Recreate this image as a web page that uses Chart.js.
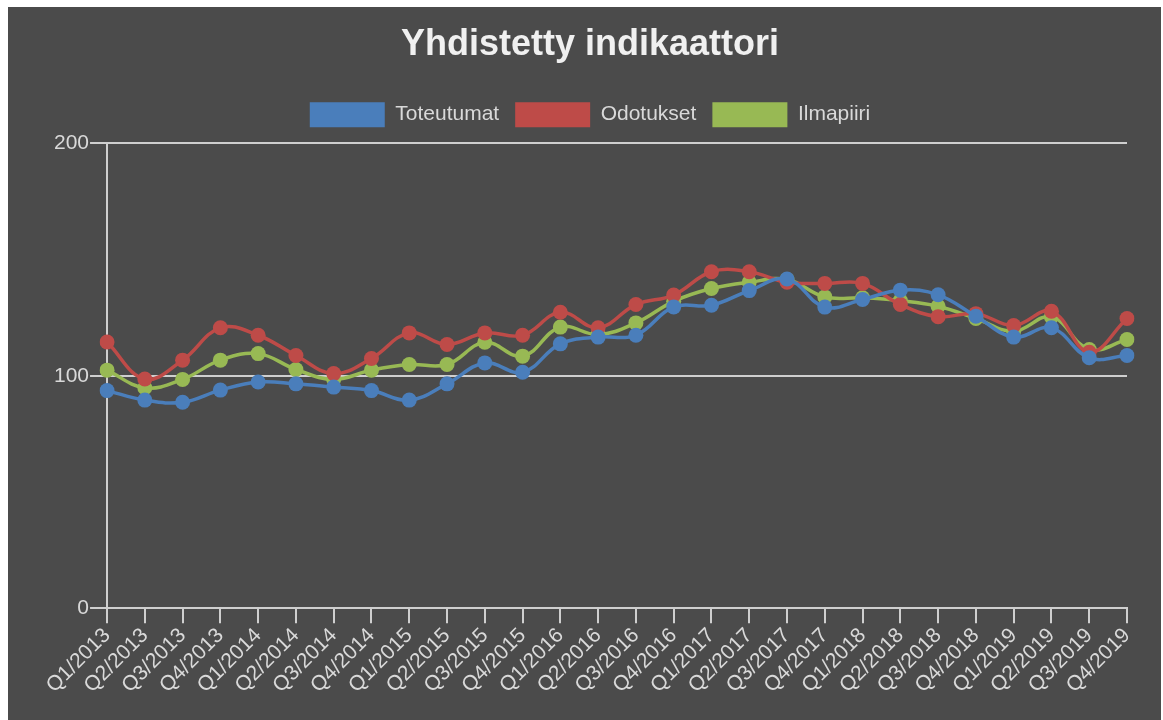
<!DOCTYPE html>
<html>
<head>
<meta charset="utf-8">
<script src="https://cdn.jsdelivr.net/npm/chart.js@4"></script>
<style>
  html, body { margin: 0; padding: 0; background: #fff; }
  #wrap { position: absolute; left: 8px; top: 7px; width: 1153px; height: 713px; background: #4b4b4b; }
</style>
</head>
<body>
<div id="wrap"><canvas id="grafico"></canvas></div>
<script>
const kvartaalit = ['Q1/2013', 'Q2/2013', 'Q3/2013', 'Q4/2013', 'Q1/2014', 'Q2/2014', 'Q3/2014', 'Q4/2014',
  'Q1/2015', 'Q2/2015', 'Q3/2015', 'Q4/2015', 'Q1/2016', 'Q2/2016', 'Q3/2016', 'Q4/2016',
  'Q1/2017', 'Q2/2017', 'Q3/2017', 'Q4/2017', 'Q1/2018', 'Q2/2018', 'Q3/2018', 'Q4/2018',
  'Q1/2019', 'Q2/2019', 'Q3/2019', 'Q4/2019'];

const toteutumat = [93.6, 89.5, 88.6, 93.8, 97.3, 96.5, 95.1, 93.6,
  89.5, 96.5, 105.5, 101.5, 113.7, 116.6, 117.4, 129.6,
  130.3, 136.6, 141.6, 129.5, 132.8, 136.8, 134.8, 125.6,
  116.6, 120.6, 107.7, 108.7];

const odotukset = [114.5, 98.6, 106.7, 120.6, 117.4, 108.7, 100.9, 107.4,
  118.4, 113.4, 118.4, 117.4, 127.3, 120.6, 130.6, 134.7,
  144.7, 144.7, 140.2, 139.7, 139.7, 130.6, 125.4, 126.7,
  121.6, 127.7, 110.1, 124.6];

const ilmapiiri = [102.4, 94.8, 98.4, 106.7, 109.5, 102.7, 98.4, 102.4,
  104.8, 104.8, 114.4, 108.4, 120.9, 117.7, 122.7, 132,
  137.5, 140.2, 141.4, 133.9, 133.5, 132.3, 129.9, 124.6,
  119.1, 125.3, 111.3, 115.6];

const yTicks = [0, 100, 200];

const tekstiVari = '#d9d9d9';
const viivaVari = '#cfcfcf';
const fontti = 'Liberation Sans, Arial, sans-serif';

function sarja(nimi, data, vari) {
  return {
    label: nimi,
    data: data,
    borderColor: vari,
    backgroundColor: vari,
    borderWidth: 3.5,
    pointRadius: 7.5,
    pointHoverRadius: 7.5,
    pointBorderWidth: 0,
    tension: 0.4,
    fill: false
  };
}

// lisää tilaa selitteen alle
const selitteenVali = {
  id: 'selitteenVali',
  beforeInit(chart) {
    const alkuperainen = chart.legend.fit;
    chart.legend.fit = function () {
      alkuperainen.bind(chart.legend)();
      this.height += 6;
    };
  }
};

const ctx = document.getElementById('grafico').getContext('2d');
new Chart(ctx, {
  type: 'line',
  data: {
    labels: kvartaalit,
    datasets: [
      sarja('Toteutumat', toteutumat, '#4a7ebb'),
      sarja('Odotukset', odotukset, '#be4b48'),
      sarja('Ilmapiiri', ilmapiiri, '#98b954')
    ]
  },
  plugins: [selitteenVali],
  options: {
    responsive: true,
    maintainAspectRatio: false,
    animation: false,
    layout: { padding: { left: 45, right: 34, top: 12, bottom: 22 } },
    plugins: {
      title: {
        display: true,
        text: 'Yhdistetty indikaattori',
        color: '#f0f0f0',
        font: { family: fontti, size: 36, weight: 'bold' },
        padding: { top: 4, bottom: 20 }
      },
      legend: {
        labels: {
          color: tekstiVari,
          boxWidth: 75,
          boxHeight: 25,
          padding: 16,
          font: { family: fontti, size: 21 },
          generateLabels(chart) {
            return chart.data.datasets.map((d, i) => ({
              text: d.label,
              fillStyle: d.borderColor,
              strokeStyle: d.borderColor,
              lineWidth: 0,
              fontColor: tekstiVari,
              datasetIndex: i
            }));
          }
        }
      },
      tooltip: { enabled: false }
    },
    scales: {
      x: {
        offset: false,
        grid: { drawOnChartArea: false, drawTicks: true, tickLength: 15, color: viivaVari, lineWidth: 2 },
        border: { color: viivaVari, width: 2 },
        ticks: {
          color: tekstiVari,
          maxRotation: 45,
          minRotation: 45,
          autoSkip: false,
          padding: 0,
          font: { family: fontti, size: 21 }
        }
      },
      y: {
        min: 0,
        max: 200,
        afterBuildTicks(axis) { axis.ticks = yTicks.map(v => ({ value: v })); },
        grid: { color: viivaVari, lineWidth: 2, tickLength: 17 },
        border: { color: viivaVari, width: 2 },
        ticks: {
          color: tekstiVari,
          padding: 1,
          font: { family: fontti, size: 21 }
        }
      }
    }
  }
});
</script>
</body>
</html>
